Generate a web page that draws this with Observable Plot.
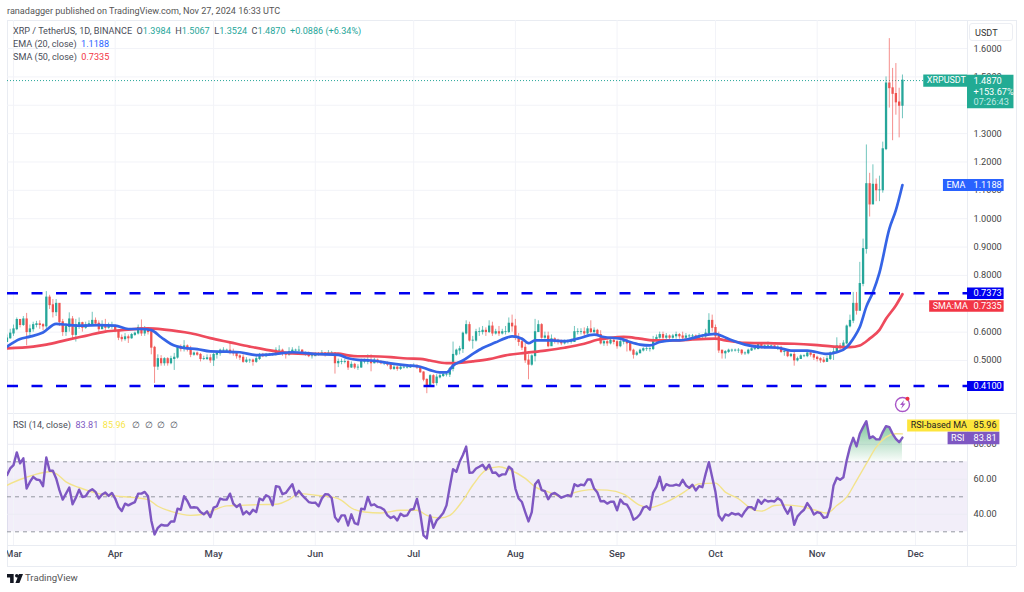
<!DOCTYPE html>
<html><head><meta charset="utf-8">
<script src="https://cdn.jsdelivr.net/npm/d3@7"></script>
<script src="https://cdn.jsdelivr.net/npm/@observablehq/plot@0.6"></script>
<style>
html,body{margin:0;padding:0;background:#fff;overflow:hidden}
#page{position:relative;width:1024px;height:592px;font-family:Roboto,sans-serif;color:#4a4e59}
.abs{position:absolute;white-space:pre}
.plot{position:absolute;left:7px}
.line{position:absolute;background:#e9ecf2}
</style></head><body><div id="page"></div>
<script>
// ---- daily candles (USDT) ----
const closeFeb=[.578,.595];
const highFeb=[.590,.610];
const lowFeb=[.565,.575];
const closeMar=[.610,.643,.625,.645,.600,.610,.625,.628,.625,.620,.722,.695,.670,.700,.635,.600,.618,.645,.590,.625,.632,.615,.625,.628,.640,.630,.610,.625,.615,.620,.622];
const highMar=[.625,.650,.645,.655,.666,.625,.635,.638,.640,.630,.743,.730,.715,.715,.700,.645,.630,.668,.655,.645,.650,.635,.635,.640,.670,.650,.640,.640,.645,.632,.635];
const lowMar=[.585,.605,.615,.620,.552,.585,.600,.615,.610,.605,.605,.680,.650,.655,.620,.585,.585,.600,.575,.565,.610,.600,.610,.620,.625,.620,.600,.610,.605,.610,.610];
const closeApr=[.605,.580,.575,.582,.578,.590,.595,.615,.595,.610,.600,.545,.478,.505,.490,.505,.490,.505,.510,.545,.540,.550,.540,.520,.525,.520,.505,.505,.508,.500];
const highApr=[.625,.607,.590,.595,.590,.595,.600,.625,.643,.620,.615,.612,.550,.520,.517,.510,.510,.515,.525,.550,.555,.570,.555,.550,.530,.530,.525,.515,.520,.520];
const lowApr=[.598,.570,.565,.568,.560,.575,.585,.590,.585,.585,.590,.520,.419,.465,.480,.480,.480,.485,.465,.505,.530,.530,.530,.510,.515,.515,.495,.500,.500,.490];
const closeMay=[.520,.525,.535,.535,.535,.530,.525,.515,.510,.495,.500,.500,.495,.505,.520,.515,.520,.520,.520,.535,.535,.525,.520,.530,.535,.535,.535,.525,.525,.515,.515];
const highMay=[.525,.530,.540,.545,.540,.563,.540,.530,.520,.520,.510,.505,.505,.515,.525,.525,.525,.525,.525,.545,.552,.540,.530,.545,.545,.540,.550,.538,.530,.530,.522];
const lowMay=[.479,.505,.515,.530,.530,.520,.515,.505,.500,.490,.490,.490,.480,.490,.500,.510,.510,.515,.515,.515,.525,.515,.505,.515,.525,.530,.530,.520,.515,.510,.505];
const closeJun=[.520,.520,.525,.520,.525,.525,.490,.495,.495,.495,.475,.485,.475,.475,.495,.495,.495,.490,.500,.495,.490,.490,.485,.470,.475,.470,.475,.475,.475,.478];
const highJun=[.528,.528,.535,.528,.535,.532,.528,.505,.505,.505,.500,.495,.490,.485,.505,.505,.520,.520,.508,.505,.500,.495,.495,.488,.482,.480,.482,.480,.480,.485];
const lowJun=[.515,.515,.518,.512,.518,.518,.452,.475,.485,.488,.465,.472,.468,.465,.472,.488,.485,.460,.488,.488,.485,.482,.478,.465,.465,.462,.465,.470,.470,.472];
const closeJul=[.480,.475,.458,.432,.413,.445,.420,.440,.445,.450,.450,.470,.520,.535,.540,.595,.625,.570,.570,.600,.600,.605,.600,.620,.595,.600,.595,.600,.600,.630,.620];
const highJul=[.488,.485,.478,.460,.435,.450,.450,.450,.452,.458,.460,.475,.565,.540,.550,.600,.640,.635,.585,.610,.615,.620,.615,.640,.635,.610,.620,.610,.620,.650,.660];
const lowJul=[.475,.468,.455,.425,.383,.410,.415,.410,.435,.440,.442,.440,.460,.515,.520,.525,.590,.565,.540,.565,.585,.590,.585,.595,.585,.590,.585,.590,.590,.595,.600];
const closeAug=[.580,.565,.545,.500,.485,.515,.600,.625,.580,.585,.550,.575,.570,.565,.560,.565,.565,.565,.600,.600,.600,.595,.610,.600,.605,.590,.560,.565,.560,.570,.565];
const highAug=[.645,.595,.580,.560,.520,.520,.645,.640,.630,.600,.600,.590,.580,.575,.572,.572,.572,.575,.620,.612,.612,.615,.620,.640,.615,.610,.605,.575,.572,.580,.575];
const lowAug=[.570,.550,.535,.490,.432,.480,.495,.600,.575,.575,.545,.550,.558,.555,.552,.555,.558,.558,.565,.590,.590,.585,.590,.595,.595,.585,.555,.550,.550,.555,.555];
const closeSep=[.550,.565,.565,.560,.535,.520,.525,.535,.540,.540,.540,.570,.580,.590,.580,.585,.580,.585,.590,.585,.580,.585,.585,.585,.580,.585,.585,.595,.640,.615];
const highSep=[.570,.580,.575,.575,.565,.540,.532,.540,.545,.548,.545,.585,.590,.600,.600,.595,.590,.592,.600,.595,.600,.595,.592,.592,.590,.595,.592,.610,.665,.660];
const lowSep=[.540,.545,.555,.530,.530,.505,.515,.525,.530,.532,.530,.535,.565,.575,.570,.572,.570,.575,.575,.575,.570,.575,.575,.575,.572,.575,.578,.575,.590,.600];
const closeOct=[.585,.535,.525,.530,.535,.535,.535,.535,.525,.525,.535,.540,.540,.555,.545,.550,.550,.550,.545,.545,.530,.530,.515,.520,.500,.505,.515,.515,.525,.520,.510];
const highOct=[.625,.600,.535,.535,.540,.540,.540,.542,.538,.530,.540,.545,.545,.560,.558,.555,.565,.555,.552,.552,.550,.535,.530,.525,.530,.512,.520,.520,.530,.530,.522];
const lowOct=[.570,.525,.505,.505,.525,.528,.530,.525,.518,.518,.520,.532,.535,.538,.540,.540,.545,.542,.540,.535,.525,.515,.510,.510,.480,.495,.505,.510,.510,.512,.500];
const closeNov=[.505,.500,.495,.505,.525,.530,.550,.545,.560,.620,.640,.700,.675,.770,.893,1.122,1.050,1.120,1.100,1.100,1.245,1.477,1.460,1.440,1.410,1.398,1.487];
const highNov=[.515,.510,.510,.515,.530,.550,.580,.560,.570,.625,.660,.740,.740,.846,.928,1.260,1.160,1.190,1.140,1.150,1.270,1.500,1.635,1.530,1.547,1.460,1.5067];
const lowNov=[.495,.490,.490,.495,.500,.500,.535,.535,.540,.555,.615,.630,.660,.680,.760,.875,1.006,1.050,1.060,1.060,1.090,1.240,1.390,1.275,1.365,1.285,1.3524];
const firstOpen=.565;

// ---- daily RSI (14) ----
const rsiFeb=[62.4,66.2];
const rsiMar=[68.1,75.4,69.1,72.0,54.7,58.5,61.4,59.9,59.5,56.1,72.5,64.9,64.9,60.5,53.8,48.4,51.8,55.3,45.7,49.5,54.1,49.9,50.3,53.2,54.3,52.8,49.0,51.3,52.4,50.5,52.2];
const rsiApr=[49.0,44.2,41.9,46.1,45.1,46.1,47.0,51.8,51.8,52.8,50.3,36.5,28.5,32.3,34.0,33.6,33.6,35.9,35.9,43.2,42.6,50.3,47.6,43.8,44.0,43.8,41.3,40.0,41.7,38.4];
const rsiMay=[43.8,44.6,49.0,48.4,48.4,51.8,46.1,44.2,45.7,40.0,41.7,40.0,42.6,41.3,49.0,48.0,50.9,49.9,45.1,56.1,55.7,51.5,52.2,54.7,57.2,50.9,53.4,50.9,49.0,47.0,46.5];
const rsiJun=[46.7,44.6,49.0,51.5,51.3,49.3,38.4,35.9,39.4,39.4,33.6,40.0,35.0,34.2,43.2,42.8,49.9,45.1,45.7,44.2,43.8,42.6,39.4,37.9,38.8,36.5,40.3,39.0,39.4,42.6];
const rsiJul=[43.0,48.8,40.3,27.9,26.2,39.4,32.3,36.5,38.4,40.7,45.1,55.7,65.8,64.3,70.0,73.9,78.7,63.7,63.9,66.2,67.2,68.3,65.6,68.3,63.7,63.9,61.8,62.8,62.9,67.2,65.6];
const rsiAug=[54.7,49.0,47.0,41.3,35.9,41.3,57.2,59.5,53.8,53.2,48.6,51.5,52.2,50.9,49.5,50.3,50.9,50.3,57.2,56.1,57.0,56.6,59.9,59.9,54.7,52.4,47.4,47.6,46.1,47.2,47.2];
const rsiSep=[42.3,48.4,46.1,45.5,42.3,36.9,38.0,40.0,43.8,44.6,42.6,52.4,55.7,61.4,53.8,57.2,56.4,56.4,57.0,56.4,59.7,56.5,55.1,56.9,53.6,56.1,55.5,63.1,69.8,61.2];
const rsiOct=[52.7,39.3,36.5,39.9,39.3,40.7,39.9,40.3,38.8,41.8,44.1,44.1,42.6,48.3,46.0,48.3,47.3,47.7,47.3,49.2,47.9,43.7,40.3,44.1,34.0,38.8,40.9,42.6,46.4,43.7,39.9];
const rsiNov=[41.2,40.7,38.0,38.4,44.1,56.5,60.9,59.7,61.2,70.8,78.4,83.7,78.8,86.0,89.8,93.2,83.5,84.5,82.8,82.8,87.0,90.4,89.8,86.0,83.1,81.2,83.81];

// ---- moving averages, read at their bends ----
const emaDates=["02-28","03-03","03-06","03-10","03-14","03-18","03-22","03-27","04-01","04-05","04-09","04-12","04-15","04-18","04-22","04-26","04-30","05-05","05-09","05-14","05-20","05-25","06-01","06-08","06-11","06-14","06-18","06-24","06-29","07-03","07-06","07-09","07-11","07-13","07-16","07-19","07-22","07-26","07-29","07-31","08-03","08-05","08-07","08-12","08-16","08-20","08-25","08-28","09-02","09-05","09-08","09-11","09-14","09-18","09-20","09-24","09-27","10-01","10-03","10-06","10-10","10-15","10-20","10-24","10-29","11-04","11-07","11-10","11-12","11-14","11-16","11-18","11-20","11-23","11-25","11-27"];
const emaValues=[.549,.576,.584,.599,.629,.625,.623,.625,.623,.611,.611,.607,.582,.558,.544,.540,.532,.531,.529,.519,.523,.529,.523,.520,.508,.502,.500,.490,.483,.478,.466,.458,.458,.482,.500,.523,.544,.564,.579,.585,.577,.561,.571,.571,.568,.577,.591,.583,.577,.565,.556,.553,.565,.571,.571,.579,.588,.594,.586,.571,.556,.547,.545,.535,.535,.523,.529,.547,.577,.618,.690,.741,.810,.964,1.030,1.1188];
const smaDates=["02-28","03-07","03-11","03-17","03-23","03-29","04-03","04-11","04-16","04-24","04-30","05-06","05-12","05-20","05-25","06-01","06-08","06-11","06-14","06-18","06-24","06-29","07-03","07-06","07-11","07-14","07-19","07-24","07-29","08-04","08-10","08-16","08-22","08-26","08-30","09-03","09-08","09-12","09-20","09-24","10-01","10-04","10-10","10-17","10-25","10-31","11-06","11-11","11-14","11-17","11-20","11-22","11-25","11-27"];
const smaValues=[.543,.549,.556,.572,.587,.602,.607,.613,.609,.596,.579,.564,.549,.532,.525,.523,.524,.518,.515,.515,.512,.507,.506,.500,.491,.491,.497,.505,.518,.527,.535,.545,.559,.573,.580,.583,.577,.571,.571,.574,.577,.571,.562,.561,.559,.555,.549,.547,.553,.577,.608,.647,.694,.7335];
const rsiMaDates=["02-28","03-03","03-07","03-12","03-14","03-17","03-21","03-27","04-01","04-07","04-11","04-14","04-18","04-24","04-28","05-01","05-05","05-09","05-15","05-20","05-24","05-27","06-01","06-07","06-09","06-12","06-16","06-21","06-27","07-02","07-05","07-09","07-12","07-16","07-19","07-23","07-27","07-30","08-04","08-07","08-11","08-15","08-19","08-24","08-29","09-03","09-08","09-11","09-15","09-20","09-23","09-26","10-01","10-04","10-08","10-12","10-15","10-19","10-22","10-27","10-31","11-04","11-07","11-10","11-13","11-16","11-19","11-22","11-25","11-27"];
const rsiMaValues=[56.6,59.9,62.4,64.3,63.3,58.5,55.3,51.8,50.5,49.5,48.4,44.6,41.7,39.4,40.0,42.3,44.8,45.1,45.5,45.7,48.4,51.8,50.9,49.5,48.0,43.6,41.3,40.7,42.3,42.3,39.4,37.9,39.4,48.0,56.6,65.2,67.2,65.6,60.5,55.7,52.8,49.9,52.4,54.1,53.8,51.5,45.1,43.8,46.1,50.9,54.6,57.4,57.8,52.7,48.9,43.1,41.8,45.0,45.4,44.5,42.6,40.7,45.0,49.8,59.3,68.9,78.4,84.1,86.0,85.96];

// ---- levels and ticks ----
const resistance=.7373, support=.41;
const priceTicks=[.5,.6,.7,.8,.9,1,1.1,1.2,1.3,1.4,1.5,1.6];
const rsiTicks=[40,60,80];
const rsiBands=[30,50,70];
const monthTicks=["2024-03-01","2024-04-01","2024-05-01","2024-06-01","2024-07-01","2024-08-01","2024-09-01","2024-10-01","2024-11-01","2024-12-01"].map(d=>new Date(d));

// ---- build tables ----
const segments=[
 ["2024-02-28",closeFeb,highFeb,lowFeb,rsiFeb],["2024-03-01",closeMar,highMar,lowMar,rsiMar],
 ["2024-04-01",closeApr,highApr,lowApr,rsiApr],["2024-05-01",closeMay,highMay,lowMay,rsiMay],
 ["2024-06-01",closeJun,highJun,lowJun,rsiJun],["2024-07-01",closeJul,highJul,lowJul,rsiJul],
 ["2024-08-01",closeAug,highAug,lowAug,rsiAug],["2024-09-01",closeSep,highSep,lowSep,rsiSep],
 ["2024-10-01",closeOct,highOct,lowOct,rsiOct],["2024-11-01",closeNov,highNov,lowNov,rsiNov]];
const rows=[];let prev=firstOpen;
for(const [start,c,h,l,r] of segments){c.forEach((v,i)=>{
  rows.push({date:d3.utcDay.offset(new Date(start),i),open:prev,close:v,high:h[i],low:l[i],rsi:r[i]});prev=v;});}
const series=(ds,vs)=>ds.map((d,i)=>({date:new Date("2024-"+d),value:vs[i]}));
const ema=series(emaDates,emaValues), sma=series(smaDates,smaValues), rsiMa=series(rsiMaDates,rsiMaValues);

// ---- shared layout ----
const FONT="Roboto,sans-serif";
const GREEN="#26a69a",RED="#ef5350",BLUE="#3564e6",PINK="#ee4a5c",LEVEL="#0000f0",PURPLE="#7e57c2",GRID="#f2f3f8";
const xDomain=[new Date(Date.UTC(2024,1,28,4)),new Date(Date.UTC(2024,11,16,20))];
const W=1017,MR=57;
const day=(m,d,h=0)=>new Date(Date.UTC(2024,m,d,h));
const VAL=9.2;
const tag=(value,{from,to,h,fill,label,val,dy=0,color="#fff",labelDx=3})=>[
  Plot.ruleY([value],{x1:()=>from,x2:()=>to,strokeWidth:h,stroke:fill,dy}),
  ...(label?[Plot.text([value],{y:d=>d,x:()=>from,dx:labelDx,dy,text:()=>label,textAnchor:"start",fill:color,fontSize:9})]:[]),
  ...(val?[Plot.text([value],{y:d=>d,x:()=>xDomain[1],dx:6,dy,text:()=>val,textAnchor:"start",fill:color,fontSize:VAL})]:[])
];

const pricePlot=Plot.plot({
  width:W,height:413,marginLeft:0,marginRight:MR,marginTop:20,marginBottom:0,
  style:{fontFamily:FONT,background:"transparent",overflow:"hidden"},
  x:{type:"utc",domain:xDomain,axis:null},
  y:{domain:[.3131,1.6989],axis:null},
  marks:[
    Plot.ruleX(monthTicks,{stroke:GRID}),
    Plot.ruleY(priceTicks,{stroke:GRID}),
    Plot.ruleY([1.487],{stroke:"#26a69a",strokeDasharray:"1,2",strokeWidth:1}),
    Plot.ruleX(rows,{x:"date",y1:"low",y2:"high",stroke:d=>d.close>=d.open?GREEN:RED,strokeOpacity:.65,clip:true}),
    Plot.ruleX(rows,{x:"date",y1:d=>Math.min(d.open,d.close)-.0015,y2:d=>Math.max(d.open,d.close)+.0015,stroke:d=>d.close>=d.open?GREEN:RED,strokeWidth:2.3,clip:true}),
    Plot.line(sma,{x:"date",y:"value",stroke:PINK,strokeWidth:2.7,curve:"monotone-x",clip:true}),
    Plot.line(ema,{x:"date",y:"value",stroke:BLUE,strokeWidth:2.7,curve:"monotone-x",clip:true}),
    Plot.ruleY([resistance,support],{stroke:LEVEL,strokeWidth:2.4,strokeDasharray:"11,13.5"}),
    Plot.axisY({anchor:"right",ticks:priceTicks,tickFormat:d3.format(".4f"),tickSize:0,tickPadding:6,fill:"#444",fontSize:VAL,textAnchor:"start",label:null}),
    ...tag(1.487,{from:day(11,3,12),to:xDomain[1],h:12.4,fill:"#22ab94",label:"XRPUSDT"}),
    ...tag(1.487,{from:xDomain[1],to:day(11,31),h:33.4,fill:"#22ab94",dy:10.9}),
    Plot.text([1.487],{y:d=>d,x:()=>xDomain[1],dx:6,dy:0.5,text:()=>"1.4870",textAnchor:"start",fill:"#fff",fontSize:VAL}),
    Plot.text([1.487],{y:d=>d,x:()=>xDomain[1],dx:6,dy:11,text:()=>"+153.67%",textAnchor:"start",fill:"#fff",fontSize:VAL}),
    Plot.text([1.487],{y:d=>d,x:()=>xDomain[1],dx:6,dy:21.5,text:()=>"07:26:43",textAnchor:"start",fill:"#bfe9e2",fontSize:VAL}),
    ...tag(1.1188,{from:day(11,9,12),to:day(11,28),h:12,fill:"#2962ff",label:"EMA",val:"1.1188"}),
    ...tag(resistance,{from:xDomain[1],to:day(11,28),h:11.5,fill:LEVEL,val:"0.7373"}),
    ...tag(.7335,{from:day(11,5,7),to:day(11,28),h:11.5,fill:"#f23645",label:"SMA:MA",val:"0.7335",dy:11.7}),
    ...tag(support,{from:xDomain[1],to:day(11,28),h:10,fill:LEVEL,val:"0.4100"})
  ]
});
pricePlot.classList.add("plot");pricePlot.style.top="0";

const gradientDefs=()=>{const d=d3.create("svg:defs");
  d.html('<linearGradient id="rsiFill" x1="0" y1="0" x2="0" y2="1"><stop offset="0" stop-color="#4caf73" stop-opacity=".75"/><stop offset="1" stop-color="#4caf73" stop-opacity=".03"/></linearGradient>');
  return d.node();};

const rsiPlot=Plot.plot({
  width:W,height:153,marginLeft:0,marginRight:MR,marginTop:0,marginBottom:21,
  style:{fontFamily:FONT,background:"transparent",overflow:"hidden"},
  x:{type:"utc",domain:xDomain,axis:null},
  y:{domain:[22.17,97.6],axis:null},
  marks:[
    gradientDefs,
    Plot.rectY([0],{x1:()=>xDomain[0],x2:()=>xDomain[1],y1:()=>30,y2:()=>70,fill:"#7e57c2",fillOpacity:.1}),
    Plot.ruleX(monthTicks,{stroke:GRID}),
    Plot.ruleY(rsiTicks,{stroke:"#ececf4"}),
    Plot.ruleY(rsiBands,{stroke:"#9598a1",strokeDasharray:"4,4"}),
    Plot.areaY(rows.filter(d=>d.date>=new Date("2024-11-10")),{x:"date",y1:()=>70,y2:"rsi",fill:"url(#rsiFill)"}),
    Plot.line(rsiMa,{x:"date",y:"value",stroke:"#f3e38c",strokeWidth:1.4,curve:"monotone-x",clip:true}),
    Plot.line(rows,{x:"date",y:"rsi",stroke:PURPLE,strokeWidth:2.4,clip:true}),
    Plot.axisX({ticks:monthTicks,tickFormat:d3.utcFormat("%b"),tickSize:0,tickPadding:5,fontSize:9.5,fontWeight:500,fill:"#3f4350",label:null}),
    Plot.axisY({anchor:"right",ticks:rsiTicks,tickFormat:d3.format(".2f"),tickSize:0,tickPadding:6,fill:"#444",fontSize:VAL,textAnchor:"start",label:null}),
    ...tag(85.96,{from:day(10,28,14),to:day(11,26,17),h:12,fill:"#fde53c",label:"RSI-based MA",val:"85.96",color:"#222",dy:-8.4}),
    ...tag(83.81,{from:day(11,10,22),to:day(11,26,17),h:12.5,fill:PURPLE,label:"RSI",val:"83.81",dy:0.4})
  ]
});
rsiPlot.classList.add("plot");rsiPlot.style.top="413px";

// ---- chrome and text ----
const page=document.getElementById("page");
const put=(html,css)=>{const d=document.createElement("div");d.className="abs";d.style.cssText+=css;d.innerHTML=html;page.appendChild(d);return d;};
const line=(l,t,w,h)=>{const d=document.createElement("div");d.className="line";d.style.cssText+=`left:${l}px;top:${t}px;width:${w}px;height:${h}px`;page.appendChild(d);};
line(7,20,1009,1);line(7,20,1,546);line(1016,20,1,546);line(7,413,1009,1);line(7,545,1009,1);line(7,566,1009,1);line(967,20,1,546);
page.appendChild(pricePlot);page.appendChild(rsiPlot);

const T="font-size:9.1px;line-height:12px;color:#4a4e59;";
const g=s=>`<span style="color:#26a69a">${s}</span>`;
put("ranadagger published on TradingView.com, Nov 27, 2024 16:33 UTC",T+"left:7px;top:5px;font-size:9.1px;color:#555");
put(`XRP / TetherUS, 1D, BINANCE  O${g("1.3984")}  H${g("1.5067")}  L${g("1.3524")}  C${g("1.4870")}  ${g("+0.0886 (+6.34%)")}`,T+"left:13px;top:25px");
put(`EMA (20, close)  <span style="color:#2962ff">1.1188</span>`,T+"left:13px;top:38px");
put(`SMA (50, close)  <span style="color:#f23645">0.7335</span>`,T+"left:13px;top:51px");
put(`RSI (14, close)  <span style="color:#7e57c2">83.81</span>  <span style="color:#f7e64a">85.96</span>   ∅  ∅  ∅  ∅`,T+"left:13px;top:419px");
put("USDT",T+"left:975px;top:27px;color:#333");
put("",`left:969px;top:23px;width:44px;height:18px;border:1px solid #eceef3;border-radius:3px;box-sizing:border-box`);
put("TradingView",T+"left:25px;top:572px;font-size:9.6px;color:#555");
put(`<svg width="16" height="9" viewBox="0 0 36 20"><path d="M0 0h15v20H7V8H0z M22 0a4 4 0 1 1 0 8a4 4 0 0 1 0-8z M36 0l-8 20h-9l8-20z" fill="#131722"/></svg>`,"left:7px;top:574px;line-height:0");
put(`<svg width="18" height="18" viewBox="0 0 18 18"><circle cx="8.5" cy="9.5" r="7" fill="#fff" stroke="#a855c7" stroke-width="1.4"/><path d="M10 5 L6 10 H8.5 L7 14 L11.5 8.5 H9 Z" fill="#a855c7"/><circle cx="13.5" cy="3.7" r="2" fill="#ef3340"/></svg>`,"left:894px;top:395px;line-height:0");
</script></body></html>
